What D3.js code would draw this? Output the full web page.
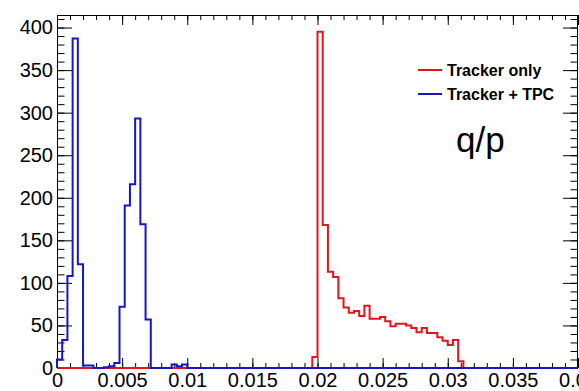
<!DOCTYPE html>
<html>
<head>
<meta charset="utf-8">
<script src="https://cdn.jsdelivr.net/npm/d3@7"></script>
<style>
  html, body { margin: 0; padding: 0; background: #fff; }
  svg { display: block; }
  text { font-family: "Liberation Sans", Arial, Helvetica, sans-serif; }
</style>
</head>
<body>
<svg id="chart" width="579" height="391"></svg>
<script>
// ---------------- DATA ----------------
const xMin = 0, xMax = 0.04, nBins = 100;
// Tracker only (red), 100 bins of width 0.0004
const trackerOnly = [
  0,0,0,0,0,0,0,0,0,0,
  0,0,0,0,0,0,0,0,0,0,
  0,0,0,0,0,0,0,0,0,0,
  0,0,0,0,0,0,0,0,0,0,
  0,0,0,0,0,0,0,0,0,13,
  395,168,113,107,82,71,65,67,61,73,
  58,58,60,55,49,52,52,50,47,42,
  47,41,41,36,32,27,33,8,0,0,
  0,0,0,0,0,0,0,0,0,0,
  0,0,0,0,0,0,0,0,0,0
];
// Tracker + TPC (blue)
const trackerTPC = [
  10,33,108,387,122,3,3,0,0,1,
  2,6,72,191,216,293,169,57,0,0,
  0,0,4,2,4,0,0,0,0,0,
  0,0,0,0,0,0,0,0,0,0,
  0,0,0,0,0,0,0,0,0,0,
  0,0,0,0,0,0,0,0,0,0,
  0,0,0,0,0,0,0,0,0,0,
  0,0,0,0,0,0,0,0,0,0,
  0,0,0,0,0,0,0,0,0,0,
  0,0,0,0,0,0,0,0,0,0
];
const xTicks = [0, 0.005, 0.01, 0.015, 0.02, 0.025, 0.03, 0.035, 0.04];
const xTickLabels = ["0", "0.005", "0.01", "0.015", "0.02", "0.025", "0.03", "0.035", "0.04"];
const yTicks = [0, 50, 100, 150, 200, 250, 300, 350, 400];
const yTickLabels = ["0", "50", "100", "150", "200", "250", "300", "350", "400"];
const seriesNames = ["Tracker only", "Tracker + TPC"];
const seriesColors = ["#e3151a", "#1616c8"];
const annotation = "q/p";

// ---------------- LAYOUT ----------------
const L = 57, R = 578, T = 15, B = 368;
const svg = d3.select("#chart");
const yMax = 1.05 * d3.max([...trackerOnly, ...trackerTPC]);
const x = d3.scaleLinear().domain([xMin, xMax]).range([L, R]);
const y = d3.scaleLinear().domain([0, yMax]).range([B, T]);

const xMinor = d3.range(0, 41).map(i => i * 0.001);
const yMinor = d3.range(0, 42).map(i => i * 10);

function styleAxis(g) {
  g.select(".domain").remove();
  g.selectAll("line").attr("stroke", "#000").attr("stroke-width", 1);
  g.selectAll("text").attr("fill", "#000").attr("font-size", 20);
}

// bottom major
svg.append("g").attr("transform", `translate(0,${B})`)
  .call(d3.axisBottom(x).tickValues(xTicks).tickSize(-10).tickPadding(5)
    .tickFormat((d, i) => xTickLabels[i]))
  .call(styleAxis);
// bottom minor
svg.append("g").attr("transform", `translate(0,${B})`)
  .call(d3.axisBottom(x).tickValues(xMinor).tickSize(-5).tickFormat(""))
  .call(styleAxis);
// top major / minor
svg.append("g").attr("transform", `translate(0,${T})`)
  .call(d3.axisTop(x).tickValues(xTicks).tickSize(-10).tickFormat(""))
  .call(styleAxis);
svg.append("g").attr("transform", `translate(0,${T})`)
  .call(d3.axisTop(x).tickValues(xMinor).tickSize(-5).tickFormat(""))
  .call(styleAxis);
// left major / minor
svg.append("g").attr("transform", `translate(${L},0)`)
  .call(d3.axisLeft(y).tickValues(yTicks).tickSize(-15).tickPadding(4)
    .tickFormat((d, i) => yTickLabels[i]))
  .call(styleAxis);
svg.append("g").attr("transform", `translate(${L},0)`)
  .call(d3.axisLeft(y).tickValues(yMinor.filter(v => v <= yMax)).tickSize(-7.5).tickFormat(""))
  .call(styleAxis);
// right major / minor
svg.append("g").attr("transform", `translate(${R},0)`)
  .call(d3.axisRight(y).tickValues(yTicks).tickSize(-15).tickFormat(""))
  .call(styleAxis);
svg.append("g").attr("transform", `translate(${R},0)`)
  .call(d3.axisRight(y).tickValues(yMinor.filter(v => v <= yMax)).tickSize(-7.5).tickFormat(""))
  .call(styleAxis);

// frame
svg.append("rect")
  .attr("x", L + 0.5).attr("y", T + 0.5)
  .attr("width", R - L - 1).attr("height", B - T)
  .attr("fill", "none").attr("stroke", "#000").attr("stroke-width", 1);

// ---------------- HISTOGRAMS ----------------
const binW = (xMax - xMin) / nBins;
function stepPoints(vals) {
  const pts = [[xMin, 0]];
  vals.forEach((v, i) => {
    pts.push([xMin + i * binW, v]);
    pts.push([xMin + (i + 1) * binW, v]);
  });
  pts.push([xMax, 0]);
  return pts;
}
const line = d3.line().x(d => x(d[0])).y(d => y(d[1]));
[trackerOnly, trackerTPC].forEach((vals, k) => {
  svg.append("path")
    .attr("d", line(stepPoints(vals)))
    .attr("fill", "none")
    .attr("stroke", seriesColors[k])
    .attr("stroke-width", 2)
    .attr("stroke-linejoin", "miter");
});

// ---------------- LEGEND ----------------
const legY = [70, 94];
seriesNames.forEach((name, k) => {
  svg.append("line")
    .attr("x1", 418).attr("x2", 442)
    .attr("y1", legY[k]).attr("y2", legY[k])
    .attr("stroke", seriesColors[k]).attr("stroke-width", 2);
  svg.append("text")
    .attr("x", 447).attr("y", legY[k] + 5.5)
    .attr("font-size", 16).attr("font-weight", "bold")
    .attr("fill", "#000")
    .text(name);
});

svg.append("text")
  .attr("x", 456).attr("y", 152)
  .attr("font-size", 35)
  .attr("fill", "#000")
  .text(annotation);
</script>
</body>
</html>
